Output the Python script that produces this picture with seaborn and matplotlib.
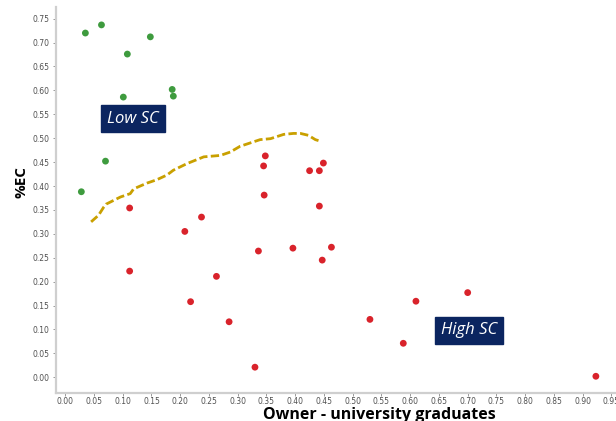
import pandas as pd
import seaborn as sns
import matplotlib.pyplot as plt

# Low SC points (green)
low_x = [0.035, 0.063, 0.148, 0.108, 0.186, 0.188, 0.101, 0.070, 0.028]
low_y = [0.720, 0.737, 0.712, 0.676, 0.602, 0.588, 0.586, 0.452, 0.388]

# High SC points (red)
high_x = [0.348, 0.345, 0.425, 0.442, 0.449, 0.346, 0.442, 0.112, 0.237, 0.208,
          0.336, 0.396, 0.463, 0.447, 0.112, 0.263, 0.218, 0.285, 0.330, 0.700,
          0.610, 0.530, 0.588, 0.923]
high_y = [0.463, 0.442, 0.432, 0.432, 0.448, 0.381, 0.358, 0.354, 0.335, 0.305,
          0.264, 0.270, 0.272, 0.245, 0.222, 0.211, 0.158, 0.116, 0.021, 0.177,
          0.159, 0.121, 0.071, 0.002]

# boundary curve (dashed)
curve_x = [0.045, 0.058, 0.067, 0.071, 0.096, 0.113, 0.119, 0.142, 0.159, 0.177,
           0.188, 0.212, 0.241, 0.270, 0.287, 0.304, 0.319, 0.339, 0.357, 0.380,
           0.397, 0.409, 0.423, 0.435, 0.443]
curve_y = [0.325, 0.339, 0.356, 0.362, 0.377, 0.384, 0.394, 0.406, 0.413, 0.423,
           0.433, 0.447, 0.461, 0.464, 0.471, 0.483, 0.489, 0.497, 0.499, 0.508,
           0.510, 0.510, 0.506, 0.497, 0.494]

pts = pd.DataFrame({
    "x": low_x + high_x,
    "y": low_y + high_y,
    "group": ["Low SC"] * len(low_x) + ["High SC"] * len(high_x),
})
curve = pd.DataFrame({"x": curve_x, "y": curve_y})

sns.set_style("white")
plt.rcParams["font.family"] = ["DejaVu Sans"]

fig = plt.figure(figsize=(6.16, 4.21), dpi=100)
ax = fig.add_axes([0.091, 0.0665, 0.909, 0.9175])

sns.lineplot(data=curve, x="x", y="y", sort=False, color="#C9A000",
             linewidth=2, linestyle=(0, (3, 1.2)), ax=ax)
sns.scatterplot(data=pts, x="x", y="y", hue="group",
                palette={"Low SC": "#3E9B3E", "High SC": "#D9232B"},
                s=24, edgecolor="none", legend=False, ax=ax)

ax.set_xlim(-0.016, 0.958)
ax.set_ylim(-0.033, 0.775)
ax.set_xticks([i * 0.05 for i in range(20)])
ax.set_yticks([i * 0.05 for i in range(16)])
ax.xaxis.set_major_formatter(plt.FormatStrFormatter("%.2f"))
ax.yaxis.set_major_formatter(plt.FormatStrFormatter("%.2f"))
ax.tick_params(axis="both", labelsize=5.5, labelcolor="#505050", color="#888888",
               length=2, width=0.6, direction="out", bottom=True, left=True)
ax.tick_params(axis="x", pad=1)
ax.tick_params(axis="y", pad=2.5)

for side in ["top", "right"]:
    ax.spines[side].set_visible(False)
for side in ["left", "bottom"]:
    ax.spines[side].set_color("#CFCFCF")
    ax.spines[side].set_linewidth(1.6)

ax.set_xlabel("Owner - university graduates", fontsize=11.5, fontweight="bold",
              family="Open Sans", color="black")
ax.xaxis.label.set_va("baseline")
ax.xaxis.set_label_coords(0.577, -0.068)
ax.set_ylabel("%EC", fontsize=11, fontweight="bold", family="Open Sans",
              color="black")
ax.yaxis.label.set_va("center")
ax.yaxis.set_label_coords(-0.061, 0.547)

box = dict(boxstyle="square,pad=0.35", facecolor="#0B2560", edgecolor="#0B2560")
ax.text(0.118, 0.541, "Low SC", color="white", fontsize=12, style="italic",
        family="Open Sans", ha="center", va="center", bbox=box)
ax.text(0.703, 0.098, "High SC", color="white", fontsize=12, style="italic",
        family="Open Sans", ha="center", va="center", bbox=box)

fig.savefig("out.png", dpi=100)
